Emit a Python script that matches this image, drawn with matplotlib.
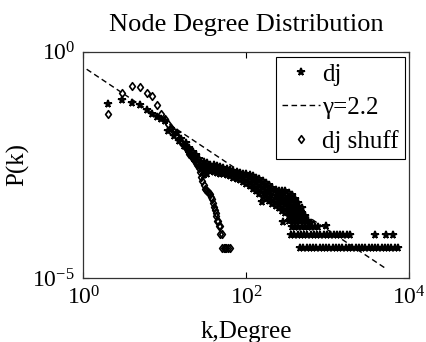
import matplotlib
matplotlib.use('Agg')
import matplotlib.pyplot as plt
from matplotlib.ticker import NullLocator
from matplotlib.path import Path
import numpy as np

# ---------------- data ----------------
# dj: low degrees, one point per integer degree k
dj_k_low = [2, 3, 4, 5, 6, 7, 8, 9, 10,
            11, 12, 13, 14, 15, 16, 17, 18, 19, 20,
            21, 22, 23, 24, 25, 26, 27, 28, 29, 30]
dj_logp_low = [-1.15, -1.07, -1.13, -1.18, -1.29, -1.37, -1.44, -1.49, -1.53,
               -1.74, -1.70, -1.86, -1.80, -1.97, -1.92, -2.08, -2.02, -2.18, -2.12,
               -2.27, -2.22, -2.36, -2.28, -2.42, -2.36, -2.52, -2.46, -2.58, -2.50]

# dj: dense band for k > 30 (log10 k, log10 P)
dj_band_logk = [
    1.48, 1.48, 1.48, 1.48,
    1.52, 1.52, 1.52, 1.52,
    1.56, 1.56, 1.56,
    1.60, 1.60, 1.60,
    1.64, 1.64, 1.64,
    1.68, 1.68, 1.68,
    1.72, 1.72, 1.72,
    1.76, 1.76, 1.76,
    1.80, 1.80, 1.80,
    1.84, 1.84, 1.84,
    1.88, 1.88, 1.88,
    1.92, 1.92, 1.92,
    1.96, 1.96, 1.96,
    2.00, 2.00, 2.00,
    2.04, 2.04, 2.04,
    2.08, 2.08, 2.08, 2.08,
    2.12, 2.12, 2.12, 2.12,
    2.16, 2.16, 2.16, 2.16,
    2.20, 2.20, 2.20, 2.20,
    2.24, 2.24, 2.24, 2.24,
    2.28, 2.28, 2.28, 2.28,
    2.32, 2.32, 2.32, 2.32,
    2.36, 2.36, 2.36, 2.36,
    2.40, 2.40, 2.40, 2.40, 2.40,
    2.44, 2.44, 2.44, 2.44, 2.44,
    2.48, 2.48, 2.48, 2.48, 2.48,
    2.52, 2.52, 2.52, 2.52, 2.52, 2.52, 2.52,
    2.56, 2.56, 2.56, 2.56, 2.56, 2.56, 2.56, 2.56,
    2.60, 2.60, 2.60, 2.60, 2.60, 2.60, 2.60,
    2.64, 2.64, 2.64, 2.64, 2.64, 2.64,
    2.68, 2.68, 2.68, 2.68, 2.68,
    2.72, 2.72, 2.72,
    2.76, 2.76,
    2.80, 2.80,
    2.84,
    2.88,
    2.19, 2.45, 2.98]
dj_band_logp = [
    -2.44, -2.53, -2.62, -2.72,
    -2.46, -2.54, -2.62, -2.69,
    -2.49, -2.57, -2.64,
    -2.51, -2.59, -2.66,
    -2.53, -2.60, -2.67,
    -2.55, -2.62, -2.69,
    -2.57, -2.64, -2.71,
    -2.59, -2.66, -2.73,
    -2.61, -2.68, -2.75,
    -2.63, -2.70, -2.78,
    -2.65, -2.73, -2.81,
    -2.67, -2.75, -2.84,
    -2.69, -2.78, -2.87,
    -2.71, -2.81, -2.92,
    -2.73, -2.85, -2.97,
    -2.75, -2.84, -2.93, -3.02,
    -2.78, -2.88, -2.97, -3.07,
    -2.81, -2.92, -3.02, -3.13,
    -2.85, -2.97, -3.08, -3.20,
    -2.90, -3.02, -3.13, -3.25,
    -2.95, -3.07, -3.18, -3.30,
    -3.01, -3.12, -3.24, -3.35,
    -3.06, -3.18, -3.29, -3.41,
    -3.08, -3.18, -3.27, -3.37, -3.46,
    -3.08, -3.19, -3.30, -3.40, -3.51,
    -3.08, -3.20, -3.32, -3.44, -3.56,
    -3.12, -3.22, -3.33, -3.43, -3.53, -3.63, -3.74,
    -3.16, -3.26, -3.36, -3.46, -3.55, -3.63, -3.74, -3.86,
    -3.24, -3.34, -3.44, -3.54, -3.63, -3.74, -3.86,
    -3.33, -3.43, -3.53, -3.63, -3.74, -3.86,
    -3.46, -3.55, -3.63, -3.74, -3.86,
    -3.63, -3.74, -3.86,
    -3.74, -3.86,
    -3.78, -3.86,
    -3.86,
    -3.86,
    -3.31, -3.75, -3.84]

# dj: degrees seen exactly twice (log10 P = -4.04) and once (log10 P = -4.34)
dj_twice_logk = [2.55, 2.59, 2.63, 2.67, 2.71, 2.75, 2.79, 2.83, 2.87, 2.91,
                 2.95, 2.99, 3.03, 3.07, 3.11, 3.15, 3.19, 3.23, 3.27,
                 3.58, 3.72, 3.80]
dj_twice_logp = -4.04
dj_once_logk = [2.66, 2.70, 2.74, 2.78, 2.82, 2.86, 2.90, 2.94, 2.98, 3.02,
                3.06, 3.10, 3.14, 3.18, 3.22, 3.26, 3.30, 3.34, 3.38, 3.42,
                3.46, 3.50, 3.54, 3.58, 3.62, 3.66, 3.70, 3.74, 3.78, 3.82, 3.86]
dj_once_logp = -4.34

# dj shuff
shuff_k = [2, 3, 4, 5, 6, 7, 8, 9, 10,
           11, 12, 13, 14, 15, 16, 17, 18, 19, 20,
           21, 22, 23, 24, 25, 26, 27, 28, 29, 30,
           31, 32, 33, 34, 35, 36, 37, 38, 39, 40,
           41, 42, 43, 44, 45, 46, 47, 48, 50,
           51, 53, 55, 57, 60, 63]
shuff_logp = [-1.37, -0.91, -0.76, -0.78, -0.91, -0.98, -1.18, -1.37, -1.48,
              -1.60, -1.68, -1.78, -1.85, -1.93, -2.00, -2.07, -2.13, -2.20, -2.25,
              -2.30, -2.35, -2.40, -2.45, -2.50, -2.57, -2.66, -2.76, -2.85, -2.95,
              -3.02, -3.05, -3.08, -3.10, -3.12, -3.15, -3.20, -3.24, -3.33, -3.43,
              -3.50, -3.57, -3.63, -3.73, -3.73, -3.85, -3.85, -4.03, -4.03,
              -4.34, -4.34, -4.34, -4.34, -4.34, -4.34]

# power-law guide line (gamma = 2.2), end points
fit_k = [1.1, 5000.0]
fit_p = [0.41, 1.7e-5]
fit_label = '\u03b3=2.2'

# ---------------- assemble ----------------
dj_k = np.concatenate([np.array(dj_k_low, float),
                       10.0 ** np.array(dj_band_logk),
                       10.0 ** np.array(dj_twice_logk),
                       10.0 ** np.array(dj_once_logk)])
dj_p = np.concatenate([10.0 ** np.array(dj_logp_low),
                       10.0 ** np.array(dj_band_logp),
                       np.full(len(dj_twice_logk), 10.0 ** dj_twice_logp),
                       np.full(len(dj_once_logk), 10.0 ** dj_once_logp)])
sh_k = np.array(shuff_k, float)
sh_p = 10.0 ** np.array(shuff_logp)

# diamond marker a bit wider than matplotlib's thin 'd'
diamond = Path([(0, 1), (0.75, 0), (0, -1), (-0.75, 0), (0, 1)],
               [Path.MOVETO, Path.LINETO, Path.LINETO, Path.LINETO, Path.CLOSEPOLY])

# ---------------- plot ----------------
plt.rcParams['font.family'] = ['Liberation Serif', 'DejaVu Serif']
plt.rcParams['mathtext.fontset'] = 'stix'

fig = plt.figure(figsize=(4.26, 3.42), dpi=100)
ax = fig.add_axes([0.1955, 0.1863, 0.7653, 0.6626])

ax.plot(dj_k, dj_p, linestyle='none', marker='*', ms=5.6, mfc='none',
        mec='k', mew=1.3, label='dj')
ax.plot(fit_k, fit_p, color='k', lw=1.0, linestyle=(0, (4, 2.5)), label=fit_label)
ax.plot(sh_k, sh_p, linestyle='none', marker=diamond, ms=5.5, mfc='none',
        mec='k', mew=1.2, label='dj shuff')

ax.set_xscale('log')
ax.set_yscale('log')
ax.set_xlim(1, 1e4)
ax.set_ylim(1e-5, 1)
ax.set_xticks([1, 1e2, 1e4])
ax.set_yticks([1e-5, 1])
ax.xaxis.set_minor_locator(NullLocator())
ax.yaxis.set_minor_locator(NullLocator())
ax.tick_params(direction='in', length=4, width=0.8, top=True, right=True,
               labelsize=17, pad=6)
for s in ax.spines.values():
    s.set_linewidth(0.9)
    s.set_color('#333333')

ax.set_title('Node Degree Distribution', fontsize=19, pad=15)
ax.set_ylabel('P(k)', fontsize=18)
ax.set_xlabel('k,Degree', fontsize=18)
ax.yaxis.set_label_coords(-0.165, 0.5)
ax.xaxis.set_label_coords(0.5, -0.19)

leg = ax.legend(loc='upper right', bbox_to_anchor=(0.987, 0.975), fontsize=18,
                frameon=True, fancybox=False, edgecolor='k', framealpha=1,
                borderpad=0.25, labelspacing=0.42, handlelength=1.5,
                handletextpad=0.1, borderaxespad=0, numpoints=1)
leg.get_frame().set_linewidth(0.8)

fig.savefig('out.png', dpi=100)
